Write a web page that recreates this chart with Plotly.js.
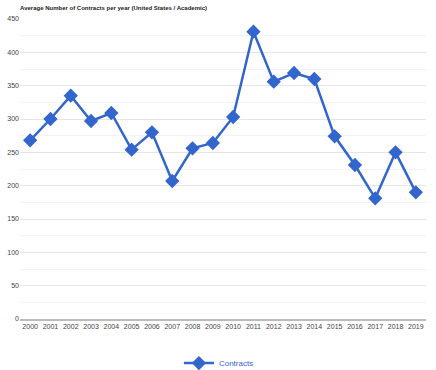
<!DOCTYPE html>
<html><head><meta charset="utf-8">
<script src="https://cdn.plot.ly/plotly-3.0.1.min.js"></script>
<style>html,body{margin:0;padding:0;background:#fff}#c{width:436px;height:370px}</style>
</head><body><div id="c"></div>
<script>
var years = ["2000","2001","2002","2003","2004","2005","2006","2007","2008","2009","2010","2011","2012","2013","2014","2015","2016","2017","2018","2019"];
var contracts = [268,300,335,297,309,254,280,207,256,264,303,431,356,369,360,274,231,181,250,190];
var yTicks = [0,50,100,150,200,250,300,350,400,450];

var trace = {x: years, y: contracts, type: 'scatter', mode: 'lines+markers', name: 'Contracts',
  line: {color: '#3366cc', width: 2.5},
  marker: {symbol: 'diamond', size: 11, color: '#3366cc'}};

var layout = {
  width: 436, height: 370,
  margin: {l: 20, r: 10, t: 19, b: 51, autoexpand: false},
  paper_bgcolor: '#fff', plot_bgcolor: '#fff',
  font: {family: 'Arial, Liberation Sans, sans-serif', size: 7, color: '#444'},
  title: {text: '<b>Average Number of Contracts per year (United States / Academic)</b>',
    font: {size: 6, color: '#222'}, x: 0.046, xanchor: 'left', y: 0.985, yanchor: 'top'},
  xaxis: {type: 'category', range: [-0.5, 19.5], showgrid: false, showline: true, linecolor: '#bbb', linewidth: 2,
    ticks: '', tickfont: {size: 7, color: '#444'}, fixedrange: true, automargin: false},
  yaxis: {range: [0, 450], tickvals: yTicks, showgrid: true, gridcolor: '#e6e6e6', gridwidth: 1,
    zeroline: false, ticks: '', tickfont: {size: 7, color: '#444'}, automargin: false,
    minor: {dtick: 25, showgrid: true, gridcolor: '#f3f3f3', gridwidth: 1}, fixedrange: true},
  showlegend: true,
  legend: {orientation: 'h', x: 0.49, xanchor: 'center', y: -0.147, yanchor: 'middle',
    itemwidth: 30, font: {size: 8, color: '#3366cc'}}
};
Plotly.newPlot('c', [trace], layout, {displayModeBar: false, staticPlot: true});
</script></body></html>
